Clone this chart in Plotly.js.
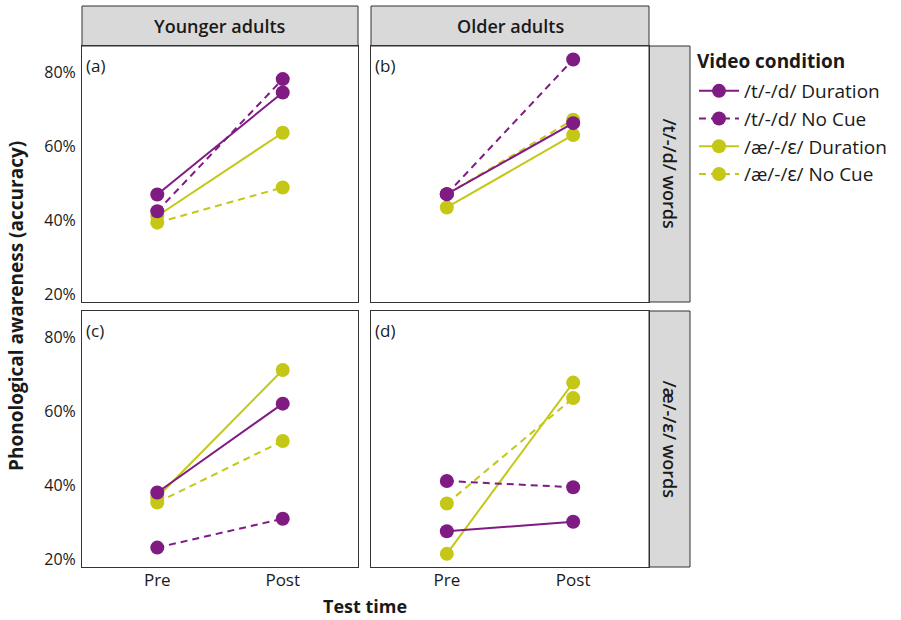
<!DOCTYPE html>
<html>
<head>
<meta charset="utf-8">
<script src="https://cdn.plot.ly/plotly-3.0.1.min.js"></script>
<style>html,body{margin:0;padding:0;background:#fff;}#chart{width:901px;height:620px;}</style>
</head>
<body>
<div id="chart"></div>
<script>
// ---- data (accuracy, %) ----
const testTime = ['Pre', 'Post'];
const seriesNames = ['/t/-/d/ Duration', '/t/-/d/ No Cue', '/æ/-/ɛ/ Duration', '/æ/-/ɛ/ No Cue'];
const ageGroups = ['Younger adults', 'Older adults'];
const wordTypes = ['/t/-/d/ words', '/æ/-/ɛ/ words'];
const panelLabels = ['(a)', '(b)', '(c)', '(d)'];
const yTicks = [20, 40, 60, 80];
const yTickLabels = ['20%', '40%', '60%', '80%'];
const legendTitle = 'Video condition';

// panel (a): younger adults, /t/-/d/ words
const youngerTdDuration = [46.9, 74.5];
const youngerTdNoCue    = [42.4, 78.1];
const youngerAeDuration = [41.1, 63.6];
const youngerAeNoCue    = [39.3, 48.8];
// panel (b): older adults, /t/-/d/ words
const olderTdDuration = [47.0, 66.2];
const olderTdNoCue    = [47.0, 83.4];
const olderAeDuration = [43.4, 63.0];
const olderAeNoCue    = [47.0, 67.1];
// panel (c): younger adults, /æ/-/ɛ/ words
const youngerTdDurationAe = [38.0, 62.0];
const youngerTdNoCueAe    = [23.1, 30.9];
const youngerAeDurationAe = [36.7, 71.1];
const youngerAeNoCueAe    = [35.3, 51.9];
// panel (d): older adults, /æ/-/ɛ/ words
const olderTdDurationAe = [27.5, 30.1];
const olderTdNoCueAe    = [41.1, 39.4];
const olderAeDurationAe = [21.4, 67.7];
const olderAeNoCueAe    = [35.0, 63.5];

const panels = [
  [youngerTdDuration, youngerTdNoCue, youngerAeDuration, youngerAeNoCue],
  [olderTdDuration, olderTdNoCue, olderAeDuration, olderAeNoCue],
  [youngerTdDurationAe, youngerTdNoCueAe, youngerAeDurationAe, youngerAeNoCueAe],
  [olderTdDurationAe, olderTdNoCueAe, olderAeDurationAe, olderAeNoCueAe]
];

// ---- styles ----
const PURPLE = '#7f1b82';
const YELLOW = '#c5c717';
const seriesColor = [PURPLE, PURPLE, YELLOW, YELLOW];
const seriesDash = ['solid', '7px,5px', 'solid', '7px,5px'];
const FONT = 'Open Sans, Noto Sans, sans-serif';
const TXT = '#1a1a1a';

const W = 901, H = 620;
const colX = [[82, 358], [371, 649]];
const rowY = [[46, 302], [311, 567]];
const px = v => v / W;
const py = v => 1 - v / H;

const traces = [];
const drawOrder = [2, 3, 0, 1]; // yellow under purple
panels.forEach((vals, p) => {
  const ax = p === 0 ? '' : String(p + 1);
  drawOrder.forEach(s => {
    traces.push({
      type: 'scatter', mode: 'lines+markers',
      x: testTime, y: vals[s],
      xaxis: 'x' + ax, yaxis: 'y' + ax,
      name: seriesNames[s],
      legendrank: s + 1,
      showlegend: p === 0,
      line: {color: seriesColor[s], width: 2, dash: seriesDash[s]},
      marker: {color: seriesColor[s], size: 14},
      hoverinfo: 'skip'
    });
  });
});

const layout = {
  width: W, height: H,
  margin: {l: 0, r: 0, t: 0, b: 0},
  paper_bgcolor: '#fff', plot_bgcolor: '#fff',
  font: {family: FONT, color: TXT, size: 16},
  showlegend: true,
  legend: {
    x: px(694), y: py(72), xanchor: 'left', yanchor: 'top',
    font: {size: 19, family: FONT, color: TXT},
    traceorder: 'normal', itemwidth: 40, tracegroupgap: 0,
    bgcolor: 'rgba(0,0,0,0)'
  },
  shapes: [], annotations: []
};

for (let p = 0; p < 4; p++) {
  const c = p % 2, r = Math.floor(p / 2);
  const ax = p === 0 ? '' : String(p + 1);
  layout['xaxis' + ax] = {
    domain: [px(colX[c][0]), px(colX[c][1])],
    anchor: 'y' + ax,
    type: 'category', range: [-0.6, 1.6],
    showgrid: false, zeroline: false, ticks: '',
    showline: true, mirror: true, linecolor: '#333', linewidth: 1,
    showticklabels: r === 1, tickfont: {size: 17, color: TXT}, ticklabelstandoff: -2,
    fixedrange: true
  };
  layout['yaxis' + ax] = {
    domain: [py(rowY[r][1]), py(rowY[r][0])],
    anchor: 'x' + ax,
    range: [17.85, 87.05], tickmode: 'array', tickvals: yTicks, ticktext: yTickLabels,
    showgrid: false, zeroline: false, ticks: '',
    showline: true, mirror: true, linecolor: '#333', linewidth: 1,
    showticklabels: c === 0, tickfont: {size: 16, color: TXT}, ticklabelstandoff: 2,
    fixedrange: true
  };
  layout.annotations.push({
    text: panelLabels[p], xref: 'x' + ax + ' domain', yref: 'y' + ax + ' domain',
    x: 0, y: 1, xanchor: 'left', yanchor: 'top', xshift: 2, yshift: -6,
    showarrow: false, font: {size: 17, color: TXT}
  });
}

// column strips (top)
ageGroups.forEach((g, c) => {
  layout.shapes.push({type: 'rect', xref: 'paper', yref: 'paper',
    x0: px(colX[c][0]), x1: px(colX[c][1]), y0: py(46), y1: py(6),
    fillcolor: '#d9d9d9', line: {color: '#333', width: 1}, layer: 'below'});
  layout.annotations.push({text: g, xref: 'paper', yref: 'paper',
    x: px((colX[c][0] + colX[c][1]) / 2), y: py(26), xanchor: 'center', yanchor: 'middle',
    showarrow: false, font: {size: 18, weight: 600, color: TXT}});
});
// row strips (right)
wordTypes.forEach((w, r) => {
  layout.shapes.push({type: 'rect', xref: 'paper', yref: 'paper',
    x0: px(649), x1: px(690), y0: py(rowY[r][1]), y1: py(rowY[r][0]),
    fillcolor: '#d9d9d9', line: {color: '#333', width: 1}, layer: 'below'});
  layout.annotations.push({text: w, xref: 'paper', yref: 'paper',
    x: px(669.5), y: py((rowY[r][0] + rowY[r][1]) / 2), xanchor: 'center', yanchor: 'middle',
    textangle: 90, showarrow: false, font: {size: 18, weight: 600, color: TXT}});
});
// legend title
layout.annotations.push({text: legendTitle, xref: 'paper', yref: 'paper',
  x: px(695), y: py(61), xanchor: 'left', yanchor: 'middle', showarrow: false,
  font: {size: 19, weight: 700, color: TXT}});
// shared axis titles
layout.annotations.push({text: 'Test time', xref: 'paper', yref: 'paper',
  x: px(365), y: py(606), xanchor: 'center', yanchor: 'middle', showarrow: false,
  font: {size: 18, weight: 700, color: TXT}});
layout.annotations.push({text: 'Phonological awareness (accuracy)', xref: 'paper', yref: 'paper',
  x: px(16), y: py(306), xanchor: 'center', yanchor: 'middle', textangle: -90, showarrow: false,
  font: {size: 19, weight: 700, color: TXT}});

Plotly.newPlot('chart', traces, layout, {displayModeBar: false, staticPlot: true});
</script>
</body>
</html>
